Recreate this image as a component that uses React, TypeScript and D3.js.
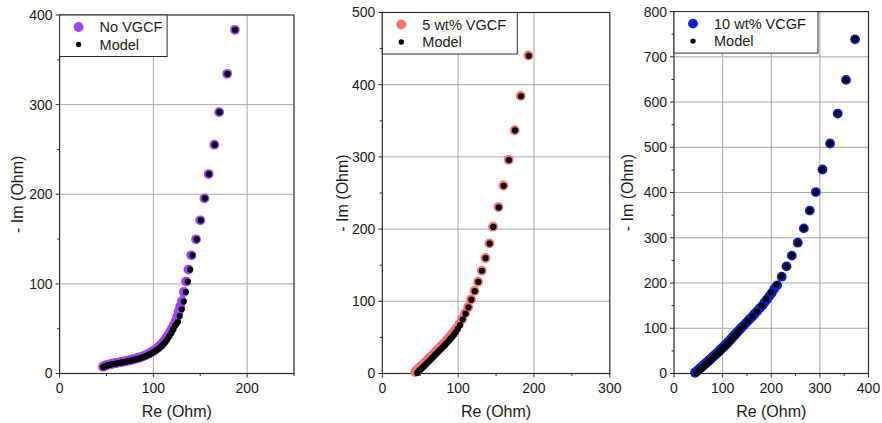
import React from "react";
import * as d3 from "d3";

// ---------- DATA ----------
const seriesNames = ["No VGCF", "5 wt% VGCF", "10 wt% VCGF"];
const modelName = "Model";
const xLabel = "Re (Ohm)";
const yLabel = "- Im (Ohm)";

const xTicks1 = [0, 100, 200];
const yTicks1 = [0, 100, 200, 300, 400];
const xTicks2 = [0, 100, 200, 300];
const yTicks2 = [0, 100, 200, 300, 400, 500];
const xTicks3 = [0, 100, 200, 300, 400];
const yTicks3 = [0, 100, 200, 300, 400, 500, 600, 700, 800];

const data1: [number, number][] = [
  [46.3, 7.6], [47.5, 8.3], [49, 8.9], [50.5, 9.4], [52, 9.9], [54, 10.4], [56, 10.9], [58, 11.3],
  [60, 11.7], [62, 12.1], [64, 12.5], [66, 12.9], [68, 13.3], [70, 13.7], [72, 14.1], [74, 14.6],
  [76, 15.1], [78, 15.6], [80, 16.2], [82, 16.8], [84, 17.4], [86, 18.1], [88, 18.9], [90, 19.7],
  [92, 20.6], [94, 21.6], [96, 22.7], [98, 23.9], [100, 25.2], [102, 26.6], [104, 28.2], [106, 30],
  [108, 32], [110, 34.3], [112, 36.9], [114, 39.8], [116, 43], [118, 46.5], [120, 50.2], [122, 54.5],
  [124, 59], [125.5, 64], [127, 69.5], [128.7, 75], [130.5, 81], [132.5, 91], [134.8, 102.6],
  [137.5, 116], [140.5, 131.9], [145.5, 149.7], [150, 170.9], [154.5, 195.4], [159, 222.5],
  [165, 255.3], [170.2, 291.6], [178.7, 334.4], [187, 383.5],
];
const model1: [number, number][] = [
  [46.5, 7.2], [48, 7.9], [49.5, 8.5], [51, 9], [53, 9.6], [55, 10.1], [57, 10.5], [59, 10.9],
  [61, 11.3], [63, 11.7], [65, 12.1], [67, 12.5], [69, 12.9], [71, 13.3], [73, 13.7], [75, 14.2],
  [77, 14.7], [79, 15.2], [81, 15.7], [83, 16.3], [85, 16.9], [87, 17.6], [89, 18.3], [91, 19.1],
  [93, 20], [95, 21], [97, 22], [99, 23.1], [101, 24.3], [103, 25.7], [105, 27.2], [107, 28.9],
  [109, 30.8], [111, 33], [113, 35.5], [115, 38.4], [117, 41.6], [119, 45.2], [121, 49.2],
  [123, 53.3], [124.6, 55.5], [126.1, 57.5], [128.2, 64.2], [130.3, 71.7], [132.4, 80.3],
  [134.6, 91], [136.7, 102.6], [139.2, 115.9], [141.6, 131.9], [146.3, 149.7], [150.6, 170.9],
  [154.9, 195.4], [159.4, 222.5], [165.5, 255.3], [170.5, 291.6], [179, 334.4], [187.2, 383.5],
];

const data2: [number, number][] = [
  [43.5, 2], [44.5, 3], [45.5, 4.2], [46.5, 5.3], [47.5, 6.3], [48.5, 7.3], [49.5, 8.3], [51, 9.7],
  [52.5, 11], [54, 12.4], [55.5, 14], [57, 15.6], [58.5, 17.2], [60, 18.8], [61.5, 20.4], [63, 22],
  [64.5, 23.6], [66, 25.2], [67.5, 26.8], [69, 28.4], [70.5, 30], [72, 31.6], [73.5, 33.2],
  [75, 34.8], [76.5, 36.4], [78, 38], [79.5, 39.6], [81, 41.2], [82.5, 42.9], [84, 44.6],
  [85.5, 46.3], [87, 48.1], [88.5, 49.9], [90, 51.8], [91.5, 53.7], [93, 55.7], [95, 58.5],
  [97.8, 62.2], [101.4, 68.2], [105.3, 75.6], [109.3, 83.4], [113.2, 92.2], [117.1, 102.8],
  [121.6, 114.4], [126.3, 127.2], [131.2, 142.5], [136, 160], [141.3, 180.2], [146, 203.3],
  [153.1, 230.5], [159.7, 260.4], [166.7, 296], [174.6, 337], [182.5, 384.5], [192.6, 440.5],
];
const model2: [number, number][] = [
  [46, 0.8], [47, 1.9], [48, 3], [49, 4.1], [50, 5.1], [51.5, 6.6], [53, 8], [54.5, 9.5], [56, 11],
  [57.5, 12.6], [59, 14.2], [60.5, 15.8], [62, 17.4], [63.5, 19], [65, 20.6], [66.5, 22.2],
  [68, 23.8], [69.5, 25.4], [71, 27], [72.5, 28.6], [74, 30.2], [75.5, 31.8], [77, 33.4],
  [78.5, 35], [80, 36.6], [81.5, 38.2], [83, 39.9], [84.5, 41.6], [86, 43.3], [87.5, 45],
  [89, 46.8], [90.5, 48.6], [92, 50.5], [93.5, 52.5], [95, 54.5], [97, 57.5], [99.5, 61.5],
  [102.4, 67.2], [106, 74.8], [109.8, 82.8], [113.6, 91.6], [117.4, 102.3], [121.9, 114],
  [126.5, 127], [131.4, 142.3], [136.2, 159.8], [141.5, 180], [146.4, 203], [153.5, 230],
  [160, 260], [167, 295.6], [175, 336.6], [183, 384], [193.2, 440],
];

const data3: [number, number][] = [
  [43, 1.5], [45, 3.2], [47, 5], [49, 6.9], [51, 8.8], [53, 10.7], [55, 12.6], [57, 14.5],
  [59, 16.4], [61, 18.3], [63, 20.2], [65, 22.1], [67, 24], [69, 25.9], [71, 27.8], [73, 29.7],
  [75, 31.6], [77, 33.5], [79, 35.5], [81, 37.5], [83, 39.5], [85, 41.5], [87, 43.5], [89, 45.6],
  [91, 47.7], [93, 49.8], [95, 51.9], [97, 54], [99, 56.1], [101, 58.2], [103, 60.3], [105, 62.5],
  [107, 64.7], [109, 66.9], [111, 69.1], [113, 71.3], [115, 73.6], [117, 75.9], [119, 78.2],
  [121, 80.5], [123, 82.8], [125, 85.2], [127, 87.6], [129.5, 90.5], [132, 93.5], [135.5, 97.1],
  [139, 101.5], [143.1, 106], [147.5, 111], [152, 116.3], [156.5, 121.3], [161.6, 126.5],
  [166, 132], [171, 137.5], [176, 144], [181.5, 150], [186, 157], [191, 163.5], [196, 171],
  [201, 178], [206, 187], [212, 195], [221.5, 214], [231.4, 236.9], [242.3, 260.5],
  [254.6, 289.2], [267, 320.8], [279.3, 360], [291.6, 401.1], [305.3, 451], [321, 508.4],
  [336.8, 574.6], [353.8, 649], [372.3, 738.8],
];
const model3: [number, number][] = [
  [45, 0.5], [47, 2.5], [49, 4.4], [51, 6.3], [53, 8.2], [55, 10.1], [57, 12], [59, 13.9],
  [61, 15.8], [63, 17.7], [65, 19.6], [67, 21.5], [69, 23.4], [71, 25.3], [73, 27.2], [75, 29.1],
  [77, 31.1], [79, 33.1], [81, 35.1], [83, 37.1], [85, 39.1], [87, 41.2], [89, 43.3], [91, 45.4],
  [93, 47.5], [95, 49.6], [97, 51.7], [99, 53.8], [101, 56], [103, 58.2], [105, 60.4],
  [107, 62.6], [109, 64.8], [111, 67], [113, 69.3], [115, 71.6], [117, 73.9], [119, 76.2],
  [121, 78.6], [123, 81], [125, 83.4], [127, 85.8], [129, 88.3], [132, 91.8], [135.5, 97.1],
  [143.1, 106], [152, 116.3], [161.6, 126.5], [171, 137.5], [180.7, 150.8], [189.5, 164.9],
  [199.8, 179.5], [210.8, 196.5], [221.1, 214.8], [231.4, 236.9], [242.3, 260.5],
  [254.6, 289.2], [267, 320.8], [279.3, 360], [291.6, 401.1], [305.3, 451], [321, 508.4],
  [336.8, 574.6], [353.8, 649], [372.3, 738.8],
];

// ---------- LAYOUT / STYLE ----------
const FONT = "'Liberation Sans', Arial, Helvetica, sans-serif";
const AXIS = "#2b2b2b";
const GRID = "#a8a8a8";
const TEXT = "#1a1a1a";

type PanelCfg = {
  name: string;
  color: string;
  data: [number, number][];
  model: [number, number][];
  xTicks: number[];
  yTicks: number[];
  x0: number; x1: number; y0: number; y1: number;
  legendW: number;
  yTitleX: number;
};

const panels: PanelCfg[] = [
  { name: seriesNames[0], color: "#a044f7", data: data1, model: model1, xTicks: xTicks1, yTicks: yTicks1,
    x0: 59.6, x1: 294, y0: 373.5, y1: 15, legendW: 107.5, yTitleX: 23 },
  { name: seriesNames[1], color: "#f87272", data: data2, model: model2, xTicks: xTicks2, yTicks: yTicks2,
    x0: 382.3, x1: 609.8, y0: 373.5, y1: 12.5, legendW: 135, yTitleX: 348 },
  { name: seriesNames[2], color: "#0a22c8", data: data3, model: model3, xTicks: xTicks3, yTicks: yTicks3,
    x0: 674, x1: 868.5, y0: 373.5, y1: 11.6, legendW: 144, yTitleX: 633 },
];

function Panel({ p }: { p: PanelCfg }) {
  const xMax = p.xTicks[p.xTicks.length - 1] + (p.name === seriesNames[0] ? 50 : 0);
  const yMax = p.yTicks[p.yTicks.length - 1];
  const x = d3.scaleLinear().domain([0, xMax]).range([p.x0, p.x1]);
  const y = d3.scaleLinear().domain([0, yMax]).range([p.y0, p.y1]);
  const xMinor = d3.range(50, xMax + 1, 100);
  const yMinor = d3.range(50, yMax, 100);
  const lx = p.x0;
  const ly = p.y1;
  return (
    <g>
      {p.xTicks.filter((t) => t > 0 && t < xMax).map((t) => (
        <line key={"gx" + t} x1={x(t)} x2={x(t)} y1={p.y0} y2={p.y1} stroke={GRID} strokeWidth={1} />
      ))}
      {p.yTicks.filter((t) => t > 0 && t < yMax).map((t) => (
        <line key={"gy" + t} x1={p.x0} x2={p.x1} y1={y(t)} y2={y(t)} stroke={GRID} strokeWidth={1} />
      ))}
      <rect x={p.x0} y={p.y1} width={p.x1 - p.x0} height={p.y0 - p.y1} fill="none" stroke={AXIS} strokeWidth={1.2} />
      {p.xTicks.map((t) => (
        <g key={"xt" + t}>
          <line x1={x(t)} x2={x(t)} y1={p.y0} y2={p.y0 + 4} stroke={AXIS} strokeWidth={1} />
          <text x={x(t)} y={p.y0 + 19.5} textAnchor="middle" fontSize={14} fontFamily={FONT} fill={TEXT}>{t}</text>
        </g>
      ))}
      {xMinor.map((t) => (
        <line key={"xm" + t} x1={x(t)} x2={x(t)} y1={p.y0} y2={p.y0 + 2.5} stroke={AXIS} strokeWidth={1} />
      ))}
      {p.yTicks.map((t) => (
        <g key={"yt" + t}>
          <line x1={p.x0 - 4} x2={p.x0} y1={y(t)} y2={y(t)} stroke={AXIS} strokeWidth={1} />
          <text x={p.x0 - 7} y={y(t)} dy="0.35em" textAnchor="end" fontSize={14} fontFamily={FONT} fill={TEXT}>{t}</text>
        </g>
      ))}
      {yMinor.map((t) => (
        <line key={"ym" + t} x1={p.x0 - 2.5} x2={p.x0} y1={y(t)} y2={y(t)} stroke={AXIS} strokeWidth={1} />
      ))}
      <text x={(p.x0 + p.x1) / 2} y={417} textAnchor="middle" fontSize={16} fontFamily={FONT} fill={TEXT}>{xLabel}</text>
      <text transform={`translate(${p.yTitleX},${(p.y0 + p.y1) / 2}) rotate(-90)`} textAnchor="middle" fontSize={16} fontFamily={FONT} fill={TEXT}>{yLabel}</text>
      {p.data.map((d, i) => (
        <circle key={"d" + i} cx={x(d[0])} cy={y(d[1])} r={4.9} fill={p.color} />
      ))}
      {p.model.map((d, i) => (
        <circle key={"m" + i} cx={x(d[0])} cy={y(d[1])} r={3.1} fill="#000" />
      ))}
      <rect x={lx} y={ly} width={p.legendW} height={41.5} fill="#fff" stroke={AXIS} strokeWidth={1} />
      <circle cx={lx + 19} cy={ly + 12} r={4.9} fill={p.color} />
      <text x={lx + 40} y={ly + 17} fontSize={14.5} fontFamily={FONT} fill={TEXT}>{p.name}</text>
      <circle cx={lx + 19} cy={ly + 29.5} r={2.7} fill="#000" />
      <text x={lx + 40} y={ly + 34.5} fontSize={14.5} fontFamily={FONT} fill={TEXT}>{modelName}</text>
    </g>
  );
}

export default function App() {
  return (
    <svg width={882} height={423} style={{ position: "absolute", left: 0, top: 0, background: "#fff" }}>
      <rect x={0} y={0} width={882} height={423} fill="#fff" />
      {panels.map((p, i) => (
        <Panel key={i} p={p} />
      ))}
    </svg>
  );
}
